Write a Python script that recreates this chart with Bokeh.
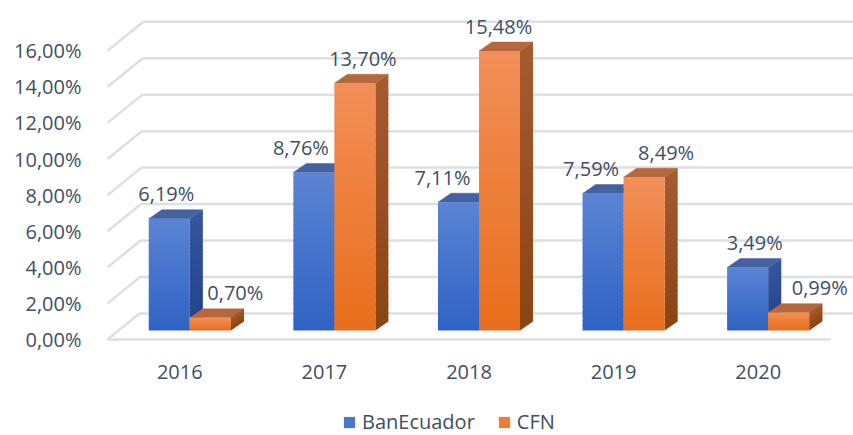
import numpy as np
from bokeh.plotting import figure
from bokeh.layouts import column
from bokeh.models import Range1d, FixedTicker, Legend, LegendItem
from bokeh.core.properties import value
from bokeh.embed import file_html
from bokeh.resources import INLINE

# ---------------- data ----------------
years = ["2016", "2017", "2018", "2019", "2020"]
banecuador = [6.19, 8.76, 7.11, 7.59, 3.49]
cfn = [0.70, 13.70, 15.48, 8.49, 0.99]
y_ticks = [0, 2, 4, 6, 8, 10, 12, 14, 16]
y_tick_labels = ["0,00%", "2,00%", "4,00%", "6,00%", "8,00%",
                 "10,00%", "12,00%", "14,00%", "16,00%"]
series_names = ["BanEcuador", "CFN"]

# ---------------- style / layout ----------------
FONT = "Open Sans"
TXT = "#404F63"
GRID = "#DCDFE4"
W = 853
HT = 391           # main figure height
HL = 435 - HT      # legend strip height
FL = 93            # frame left (px)
FB = 342           # frame bottom (px)
PXX = 144.6        # px per category
PXY = 18.05        # px per percent
X0 = 107           # px of data x = -0.5 (front floor left)
Y0 = 339           # px of data y = 0 (front floor)

def dxp(px):
    return px / PXX

def dyp(px):
    return px / PXY

x_start = -0.5 + (FL - X0) / PXX
x_end = -0.5 + (W - X0) / PXX
y_end = Y0 / PXY
y_start = -(FB - Y0) / PXY

FX, FY = 10, 9      # bar front-face offset from band centre / floor
BW = 41             # bar width px
BDX, BDY = 13, 9    # bar depth offsets px

BLUE = dict(front_top="#5B84D4", front_bot="#2F63C4",
            side_top="#36579C", side_bot="#22428A", top="#46619F",
            legend="#4A76CC")
ORANGE = dict(front_top="#F28F58", front_bot="#E86E1C",
              side_top="#A65A30", side_bot="#8B4413", top="#B5683E",
              legend="#EF7D32")

label_dx = [[-3, -13, -16, -12, 7], [25, 8, -1, 22, 31]]


def hex2rgb(h):
    h = h.lstrip("#")
    return np.array([int(h[i:i + 2], 16) for i in (0, 2, 4)], dtype=float)


def lerp(c1, c2, f):
    a, b = hex2rgb(c1), hex2rgb(c2)
    c = a + (b - a) * f
    return "#%02x%02x%02x" % tuple(int(round(v)) for v in c)


p = figure(width=W, height=HT, output_backend="svg", toolbar_location=None,
           x_range=Range1d(x_start, x_end), y_range=Range1d(y_start, y_end),
           min_border_left=FL, min_border_right=0, min_border_top=0,
           min_border_bottom=HT - FB)
p.outline_line_color = None
p.xgrid.visible = False
p.ygrid.visible = False
p.background_fill_color = "white"
p.border_fill_color = "white"

# ---------------- walls ----------------
side_xs, side_ys, back_xs, back_ys = [], [], [], []
for t in y_ticks:
    wdx = 32 + 4 * t / 16
    wdy = 26 + 3 * t / 16
    side_xs.append([-0.5, -0.5 + dxp(wdx)])
    side_ys.append([t, t + dyp(wdy)])
    back_xs.append([-0.5 + dxp(wdx), x_end + 1])
    back_ys.append([t + dyp(wdy), t + dyp(wdy)])
p.multi_line(side_xs, side_ys, line_color=GRID, line_width=2.5)
p.multi_line(back_xs, back_ys, line_color=GRID, line_width=2.5)
p.line([-0.5, len(years) - 0.5], [0, 0], line_color=GRID, line_width=2.5)

# ---------------- bars ----------------
N = 30
OV = dyp(1.2)   # slice overlap to hide seams
for s, (vals, col) in enumerate([(banecuador, BLUE), (cfn, ORANGE)]):
    tops_xs, tops_ys = [], []
    sl_l, sl_r, sl_b, sl_t, sl_c = [], [], [], [], []
    sd_xs, sd_ys, sd_c = [], [], []
    ddx, ddy = dxp(BDX), dyp(BDY)
    for i, v in enumerate(vals):
        if s == 0:
            l = i + dxp(FX) - dxp(BW)
        else:
            l = i + dxp(FX)
        r = l + dxp(BW)
        b = dyp(FY)
        t = b + v
        tops_xs.append([l, r, r + ddx, l + ddx])
        tops_ys.append([t, t, t + ddy, t + ddy])
        for k in range(N):
            y0 = b + (t - b) * k / N
            y1 = b + (t - b) * (k + 1) / N
            if k < N - 1:
                y1 = min(y1 + OV, t)
            f = (k + 0.5) / N
            sl_l.append(l)
            sl_r.append(r)
            sl_b.append(y0)
            sl_t.append(y1)
            sl_c.append(lerp(col["front_bot"], col["front_top"], f))
            sd_xs.append([r, r + ddx, r + ddx, r])
            sd_ys.append([y0, y0 + ddy, y1 + ddy, y1])
            sd_c.append(lerp(col["side_bot"], col["side_top"], f))
    p.patches(tops_xs, tops_ys, fill_color=col["top"], line_color=col["top"], line_width=0.5)
    p.patches(sd_xs, sd_ys, fill_color=sd_c, line_color=None)
    p.quad(left=sl_l, right=sl_r, bottom=sl_b, top=sl_t,
           fill_color=sl_c, line_color=None)

# ---------------- data labels ----------------
for s, vals in enumerate([banecuador, cfn]):
    lx, ly, lt = [], [], []
    for i, v in enumerate(vals):
        if s == 0:
            cx = i + dxp(FX) - dxp(BW) / 2
        else:
            cx = i + dxp(FX) + dxp(BW) / 2
        lx.append(cx + dxp(label_dx[s][i]))
        ly.append(dyp(FY) + v + dyp(25))
        lt.append(("%.2f%%" % v).replace(".", ","))
    p.text(lx, ly, text=lt, text_align="center", text_baseline="middle",
           text_font=value(FONT), text_font_size="20px", text_color=TXT)

# ---------------- axes ----------------
p.yaxis.ticker = FixedTicker(ticks=y_ticks)
p.yaxis.major_label_overrides = {t: lab for t, lab in zip(y_ticks, y_tick_labels)}
p.xaxis.ticker = FixedTicker(ticks=list(range(len(years))))
p.xaxis.major_label_overrides = {i: y for i, y in enumerate(years)}
for ax in (p.xaxis, p.yaxis):
    ax.axis_line_color = None
    ax.major_tick_line_color = None
    ax.minor_tick_line_color = None
    ax.major_tick_out = 0
    ax.major_tick_in = 0
    ax.major_label_text_font = FONT
    ax.major_label_text_font_size = "20px"
    ax.major_label_text_color = TXT
p.yaxis.major_label_standoff = 12
p.xaxis.major_label_standoff = 22

# ---------------- legend strip ----------------
q = figure(width=W, height=HL, output_backend="svg", toolbar_location=None,
           x_range=Range1d(0, 1), y_range=Range1d(0, 1),
           x_axis_type=None, y_axis_type=None,
           min_border_left=0, min_border_right=0, min_border_top=0,
           min_border_bottom=0)
q.outline_line_color = None
q.xgrid.visible = False
q.ygrid.visible = False
q.background_fill_color = "white"
q.border_fill_color = "white"
rb = q.quad(left=[5], right=[6], top=[6], bottom=[5],
            fill_color=BLUE["legend"], line_color=None)
ro = q.quad(left=[5], right=[6], top=[6], bottom=[5],
            fill_color=ORANGE["legend"], line_color=None)
legend = Legend(items=[LegendItem(label=series_names[0], renderers=[rb]),
                       LegendItem(label=series_names[1], renderers=[ro])],
                orientation="horizontal", location=(342 - FL, 0),
                border_line_color=None, background_fill_alpha=0,
                label_text_font=FONT, label_text_font_size="20px",
                label_text_color=TXT, glyph_width=14, glyph_height=14,
                label_standoff=6, spacing=22, padding=0, margin=0)
q.add_layout(legend)

layout = column(p, q, spacing=0)
open("out.html", "w").write(file_html(layout, INLINE))
